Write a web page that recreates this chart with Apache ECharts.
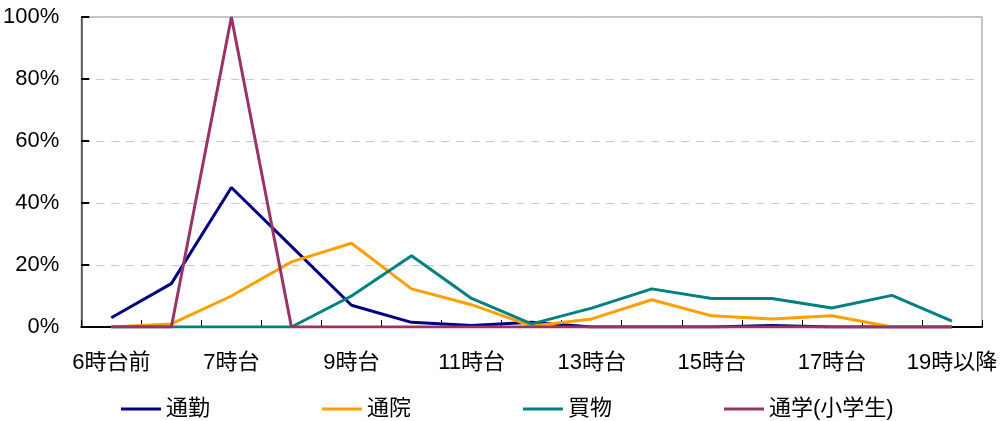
<!DOCTYPE html>
<html>
<head>
<meta charset="utf-8">
<script src="https://cdn.jsdelivr.net/npm/echarts@6/dist/echarts.min.js"></script>
<style>
html,body{margin:0;padding:0;background:#fff;}
#chart{width:1002px;height:421px;}
</style>
</head>
<body>
<div id="chart"></div>
<script>
const categories = ['6時台前','6時台','7時台','8時台','9時台','10時台','11時台','12時台','13時台','14時台','15時台','16時台','17時台','18時台','19時以降'];
const seriesNames = ['通勤','通院','買物','通学(小学生)'];
const commute = [3, 14, 45, 26, 7, 1.5, 0.5, 1.5, 0, 0, 0, 0.5, 0, 0, 0];
const hospital = [0, 1, 10, 21, 27, 12.3, 7.2, 0.3, 2.6, 8.8, 3.6, 2.6, 3.6, 0, 0];
const shopping = [0, 0, 0, 0, 10, 23, 9.2, 1, 6.1, 12.3, 9.2, 9.2, 6.1, 10.2, 1.9];
const school = [0, 0, 100, 0, 0, 0, 0, 0, 0, 0, 0, 0, 0, 0, 0];
const yTicks = [0, 20, 40, 60, 80, 100];

const colors = ['#000080', '#ff9f00', '#008080', '#993366'];
const FONT = '"Liberation Sans", "Noto Sans CJK JP", sans-serif';

const chart = echarts.init(document.getElementById('chart'));
const dataSets = [commute, hospital, shopping, school];
chart.setOption({
  animation: false,
  backgroundColor: '#ffffff',
  color: colors,
  textStyle: { fontFamily: FONT },
  grid: {
    left: 79, right: 20, top: 17, bottom: 94,
    show: true, borderColor: '#888888', borderWidth: 1
  },
  legend: {
    left: 116, top: 393,
    icon: 'rect',
    itemWidth: 40, itemHeight: 3, itemGap: 112,
    textStyle: { fontSize: 22, color: '#000', fontFamily: FONT },
    data: seriesNames
  },
  xAxis: {
    type: 'category',
    data: categories,
    boundaryGap: true,
    axisLine: { lineStyle: { color: '#000', width: 2 } },
    axisTick: { show: true, inside: true, length: 7, interval: 0, lineStyle: { color: '#000', width: 1 } },
    axisLabel: { interval: 1, margin: 25, fontSize: 22, color: '#000', fontFamily: FONT },
    splitLine: { show: false }
  },
  yAxis: {
    type: 'value',
    min: yTicks[0], max: yTicks[yTicks.length - 1], interval: 20,
    axisLine: { show: true, lineStyle: { color: '#404040', width: 1.5 } },
    axisTick: { show: true, inside: true, length: 8, lineStyle: { color: '#000', width: 2 } },
    axisLabel: { formatter: v => v + '%', margin: 22, fontSize: 22, color: '#000', fontFamily: FONT },
    splitLine: { show: true, lineStyle: { color: '#c8c8c8', type: [8, 7], width: 1 } }
  },
  series: seriesNames.map((n, i) => ({
    name: n,
    type: 'line',
    data: dataSets[i],
    symbol: 'none',
    lineStyle: { width: 3, color: colors[i] },
    itemStyle: { color: colors[i] }
  }))
});
</script>
</body>
</html>
